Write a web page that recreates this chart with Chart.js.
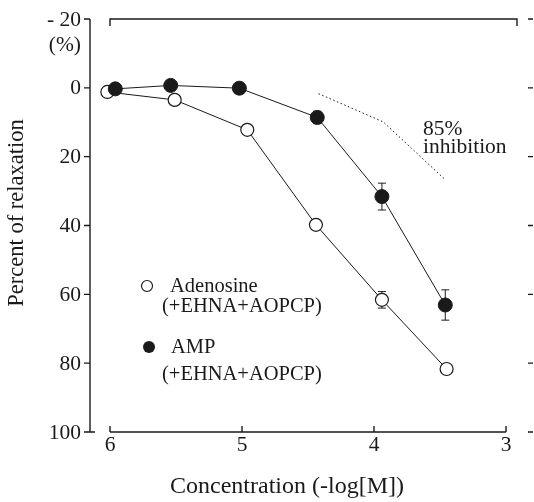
<!DOCTYPE html>
<html>
<head>
<meta charset="utf-8">
<script src="https://cdn.jsdelivr.net/npm/chart.js@4/dist/chart.umd.min.js"></script>
<style>
html,body{margin:0;padding:0;background:#fff;}
canvas{display:block;}
</style>
</head>
<body>
<canvas id="c" width="534" height="502"></canvas>
<script>
// ---- data ----
const adenosineX = [6.02, 5.51, 4.96, 4.44, 3.94, 3.45];
const adenosineY = [1.2, 3.5, 12.2, 39.8, 61.6, 81.7];
const adenosineErr = [0, 0, 0, 1.5, 2.4, 0];
const ampX = [5.96, 5.54, 5.02, 4.43, 3.94, 3.46];
const ampY = [0.3, -0.7, 0.1, 8.6, 31.6, 63.1];
const ampErr = [0, 0, 0, 1.8, 3.9, 4.4];
const inhibitionX = [4.42, 3.93, 3.46];
const inhibitionY = [1.7, 9.9, 26.7];
const xTicks = [6, 5, 4, 3];
const yTicks = [-20, 0, 20, 40, 60, 80, 100];
const yTickLabels = ['- 20', '0', '20', '40', '60', '80', '100'];
const xTitle = 'Concentration (-log[M])';
const yTitle = 'Percent of relaxation';
const legendLabels = [['Adenosine', '(+EHNA+AOPCP)'], ['AMP', '(+EHNA+AOPCP)']];
const noteLines = ['85%', 'inhibition'];

const pts = (xs, ys) => xs.map((x, i) => ({x: x, y: ys[i]}));
const INK = '#1a1a1a';
const SERIF = '"Liberation Serif", "DejaVu Serif", serif';

const framePlugin = {
  id: 'frame',
  beforeDatasetsDraw(chart) {
    const ctx = chart.ctx, xs = chart.scales.x, ys = chart.scales.y;
    ctx.save();
    ctx.strokeStyle = INK;
    ctx.lineWidth = 1;
    // error bars
    const bars = [[adenosineX, adenosineY, adenosineErr], [ampX, ampY, ampErr]];
    bars.forEach(([X, Y, E]) => {
      X.forEach((x, i) => {
        if (!E[i]) return;
        const px = xs.getPixelForValue(x);
        const p1 = ys.getPixelForValue(Y[i] - E[i]);
        const p2 = ys.getPixelForValue(Y[i] + E[i]);
        ctx.beginPath();
        ctx.moveTo(px, p1); ctx.lineTo(px, p2);
        ctx.moveTo(px - 4, p1); ctx.lineTo(px + 4, p1);
        ctx.moveTo(px - 4, p2); ctx.lineTo(px + 4, p2);
        ctx.stroke();
      });
    });
    ctx.restore();
  },
  afterDraw(chart) {
    const ctx = chart.ctx, xs = chart.scales.x, ys = chart.scales.y;
    const yTop = ys.getPixelForValue(-20), yBot = ys.getPixelForValue(100);
    const xL = xs.getPixelForValue(6), xR = xs.getPixelForValue(3);
    const axisX = xL - 20;
    ctx.save();
    ctx.strokeStyle = INK;
    ctx.lineWidth = 1.4;
    ctx.beginPath();
    // left axis with foot
    ctx.moveTo(axisX, yTop); ctx.lineTo(axisX, yBot); ctx.lineTo(axisX + 5, yBot);
    // left ticks
    yTicks.forEach(v => {
      const py = ys.getPixelForValue(v);
      ctx.moveTo(axisX - 6, py); ctx.lineTo(axisX, py);
    });
    // top line with end ticks
    const topR = xR + 11;
    ctx.moveTo(xL, yTop + 7); ctx.lineTo(xL, yTop); ctx.lineTo(topR, yTop); ctx.lineTo(topR, yTop + 7);
    // bottom line with up ticks
    ctx.moveTo(xL, yBot); ctx.lineTo(xR, yBot);
    xTicks.forEach(v => {
      const px = xs.getPixelForValue(v);
      ctx.moveTo(px, yBot); ctx.lineTo(px, yBot - 6);
    });
    // right standalone ticks
    yTicks.forEach(v => {
      const py = ys.getPixelForValue(v);
      ctx.moveTo(xR + 22, py); ctx.lineTo(xR + 27, py);
    });
    ctx.stroke();

    ctx.fillStyle = INK;
    // y tick labels
    ctx.font = '21.5px ' + SERIF;
    ctx.textAlign = 'right';
    ctx.textBaseline = 'middle';
    yTicks.forEach((v, i) => {
      ctx.fillText(yTickLabels[i], axisX - 9, ys.getPixelForValue(v) + 1);
    });
    ctx.fillText('(%)', axisX - 9, yTop + 26);
    // x tick labels
    ctx.textAlign = 'center';
    ctx.textBaseline = 'alphabetic';
    xTicks.forEach(v => {
      ctx.fillText(String(v), xs.getPixelForValue(v), yBot + 19);
    });
    // x title
    ctx.font = '24px ' + SERIF;
    ctx.fillText(xTitle, 287, 493);
    // y title
    ctx.save();
    ctx.translate(23, 213);
    ctx.rotate(-Math.PI / 2);
    ctx.font = '22.5px ' + SERIF;
    ctx.textAlign = 'center';
    ctx.fillText(yTitle, 0, 0);
    ctx.restore();
    // inhibition note
    ctx.font = '21.5px ' + SERIF;
    ctx.textAlign = 'left';
    ctx.fillText(noteLines[0], 423, 135);
    ctx.fillText(noteLines[1], 423, 153);
    // legend
    ctx.lineWidth = 1.2;
    ctx.beginPath();
    ctx.arc(147, 286, 5.5, 0, Math.PI * 2);
    ctx.fillStyle = '#fff'; ctx.fill(); ctx.stroke();
    ctx.beginPath();
    ctx.arc(149, 347, 6, 0, Math.PI * 2);
    ctx.fillStyle = INK; ctx.fill();
    ctx.font = '20.5px ' + SERIF;
    ctx.fillText(legendLabels[0][0], 170, 292);
    ctx.fillText(legendLabels[0][1], 162, 312);
    ctx.fillText(legendLabels[1][0], 171, 353);
    ctx.fillText(legendLabels[1][1], 162, 380);
    ctx.restore();
  }
};

new Chart(document.getElementById('c'), {
  type: 'scatter',
  data: {
    datasets: [
      {
        label: 'inhibition',
        data: pts(inhibitionX, inhibitionY),
        showLine: true,
        borderColor: INK,
        borderWidth: 1,
        borderDash: [1.5, 2.5],
        pointRadius: 0,
        fill: false
      },
      {
        label: 'AMP',
        data: pts(ampX, ampY),
        showLine: true,
        borderColor: INK,
        borderWidth: 1,
        pointRadius: 7,
        pointBackgroundColor: INK,
        pointBorderColor: INK,
        pointBorderWidth: 1,
        fill: false
      },
      {
        label: 'Adenosine',
        data: pts(adenosineX, adenosineY),
        showLine: true,
        borderColor: INK,
        borderWidth: 1,
        pointRadius: 6.5,
        pointBackgroundColor: '#fff',
        pointBorderColor: INK,
        pointBorderWidth: 1.2,
        fill: false
      }
    ]
  },
  options: {
    responsive: false,
    animation: false,
    clip: false,
    layout: { padding: { left: 110, right: 28, top: 19, bottom: 70 } },
    plugins: { legend: { display: false }, tooltip: { enabled: false } },
    scales: {
      x: { type: 'linear', min: 3, max: 6, reverse: true, display: false },
      y: { type: 'linear', min: -20, max: 100, reverse: true, display: false }
    }
  },
  plugins: [framePlugin]
});
</script>
</body>
</html>
